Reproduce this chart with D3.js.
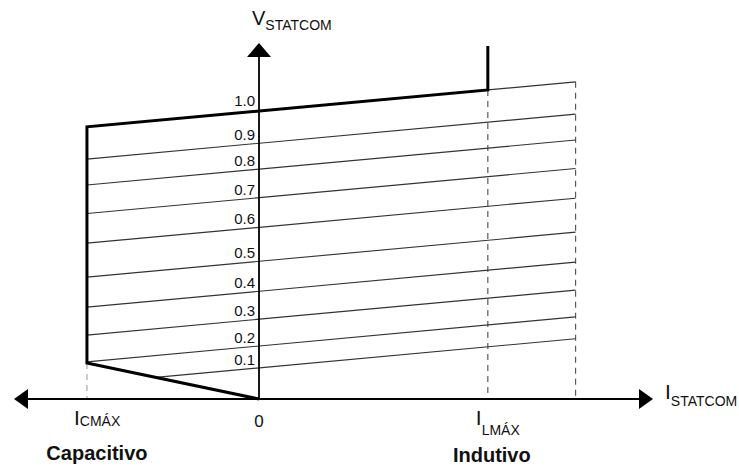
<!DOCTYPE html>
<html>
<head>
<meta charset="utf-8">
<script src="https://cdn.jsdelivr.net/npm/d3@7"></script>
<style>
  html, body { margin: 0; padding: 0; background: #fff; }
  svg { display: block; }
  text { font-family: "Liberation Sans", Arial, Helvetica, sans-serif; fill: #111; }
</style>
</head>
<body>
<svg id="chart" width="739" height="468"></svg>
<script>
// ---- data ----
const lineLabels = ["0.1", "0.2", "0.3", "0.4", "0.5", "0.6", "0.7", "0.8", "0.9", "1.0"];
const lineV0     = [0.108, 0.184, 0.277, 0.374, 0.478, 0.596, 0.699, 0.798, 0.888, 1.0]; // V at I = 0
const droopSlope = 0.055;                 // V per unit of current
const currentMarks = [-1, 1.33, 1.84];    // I_CMAX, I_LMAX, end of characteristic
const capCornerV = 0.125;                 // V at I_CMAX lower corner
const lmaxTopV = 1.226;                   // top of the inductive vertical limit
const axisRangeI = [-1.424, 2.29];        // horizontal axis extent
const axisTopV = 1.236;                   // vertical axis tip
const xAxisTitle = ["I", "STATCOM"];
const yAxisTitle = ["V", "STATCOM"];
const xTickLabels = [["I", "CMÁX"], ["0", ""], ["I", "LMÁX"]];
const regionLabels = ["Capacitivo", "Indutivo"];

// ---- scales ----
const svg = d3.select("#chart");
const x = d3.scaleLinear().domain(axisRangeI).range([14, 653]);
const y = d3.scaleLinear().domain([0, 1]).range([399, 111]);
const [ICmax, ILmax, Iend] = currentMarks;
const vAt = (v0, i) => v0 + droopSlope * i;
const line = d3.line().x(d => x(d[0])).y(d => y(d[1]));

// ---- dashed verticals ----
const dashData = [
  { i: ICmax, v: capCornerV, color: "#a8a8a8" },
  { i: ILmax, v: vAt(1.0, ILmax), color: "#5a5a5a" },
  { i: Iend,  v: vAt(1.0, Iend),  color: "#5a5a5a" }
];
svg.selectAll("line.dash").data(dashData).join("line")
  .attr("class", "dash")
  .attr("x1", d => x(d.i)).attr("x2", d => x(d.i))
  .attr("y1", d => y(d.v)).attr("y2", y(0))
  .attr("stroke", d => d.color).attr("stroke-width", 1.2)
  .attr("stroke-dasharray", "6,5");

// ---- thin characteristic lines ----
function startI(v0) {
  if (vAt(v0, ICmax) >= capCornerV) return ICmax;
  const k = capCornerV / (-ICmax); // diagonal: V = k * (-I)
  return -v0 / (k + droopSlope);
}
const thin = lineV0.map((v0, idx) => {
  const isTop = idx === lineV0.length - 1;
  const i0 = isTop ? ILmax : startI(v0);
  return [[i0, vAt(v0, i0)], [Iend, vAt(v0, Iend)]];
});
svg.selectAll("path.thin").data(thin).join("path")
  .attr("class", "thin")
  .attr("d", line).attr("fill", "none")
  .attr("stroke", "#333").attr("stroke-width", 1.15);

// ---- thick operating boundary ----
const boundary = [
  [0, 0],
  [ICmax, capCornerV],
  [ICmax, vAt(1.0, ICmax)],
  [ILmax, vAt(1.0, ILmax)],
  [ILmax, lmaxTopV]
];
svg.append("path").datum(boundary)
  .attr("d", line).attr("fill", "none")
  .attr("stroke", "#000").attr("stroke-width", 3)
  .attr("stroke-linejoin", "miter");

// ---- axes ----
svg.append("line")
  .attr("x1", x(axisRangeI[0]) + 10).attr("x2", x(axisRangeI[1]) - 10)
  .attr("y1", y(0)).attr("y2", y(0))
  .attr("stroke", "#000").attr("stroke-width", 1.8);
svg.append("line")
  .attr("x1", x(0)).attr("x2", x(0))
  .attr("y1", y(0)).attr("y2", y(axisTopV) + 10)
  .attr("stroke", "#000").attr("stroke-width", 1.8);
const ax0 = x(axisRangeI[0]), ax1 = x(axisRangeI[1]), ay = y(0), tipY = y(axisTopV), cx = x(0);
svg.append("path").attr("d", `M${ax0},${ay} L${ax0 + 14},${ay - 10} L${ax0 + 14},${ay + 10} Z`).attr("fill", "#000");
svg.append("path").attr("d", `M${ax1},${ay} L${ax1 - 14},${ay - 10} L${ax1 - 14},${ay + 10} Z`).attr("fill", "#000");
svg.append("path").attr("d", `M${cx},${tipY} L${cx - 12},${tipY + 14} L${cx + 12},${tipY + 14} Z`).attr("fill", "#000");

// ---- V tick labels on the vertical axis ----
svg.selectAll("text.vlab").data(lineLabels).join("text")
  .attr("class", "vlab")
  .attr("x", x(0) - 4)
  .attr("y", (d, i) => y(vAt(lineV0[i], -0.07)) - (i === lineLabels.length - 1 ? 6 : 4))
  .attr("text-anchor", "end")
  .attr("font-size", 15)
  .text(d => d);

// ---- subscripted labels ----
function subLabel(xp, yp, parts, mainSize, subSize, subDy) {
  const t = svg.append("text").attr("x", xp).attr("y", yp);
  t.append("tspan").attr("font-size", mainSize).text(parts[0]);
  if (parts[1]) t.append("tspan").attr("font-size", subSize).attr("dy", subDy).text(parts[1]);
  return t;
}
subLabel(x(0) - 7, 25, yAxisTitle, 20, 14, 5);
subLabel(ax1 + 12, 399, xAxisTitle, 21, 14, 7);
subLabel(x(ICmax) - 13, 425, xTickLabels[0], 21, 14, 1);
subLabel(x(ILmax) - 12, 425, xTickLabels[2], 21, 14, 10);
svg.append("text").attr("x", x(0)).attr("y", 427)
  .attr("text-anchor", "middle").attr("font-size", 17).text(xTickLabels[1][0]);

// ---- region labels ----
svg.append("text").attr("x", x(ICmax) + 10).attr("y", 460)
  .attr("text-anchor", "middle").attr("font-size", 20).attr("font-weight", "bold")
  .text(regionLabels[0]);
svg.append("text").attr("x", x(ILmax) + 4).attr("y", 462)
  .attr("text-anchor", "middle").attr("font-size", 20).attr("font-weight", "bold")
  .text(regionLabels[1]);
</script>
</body>
</html>
